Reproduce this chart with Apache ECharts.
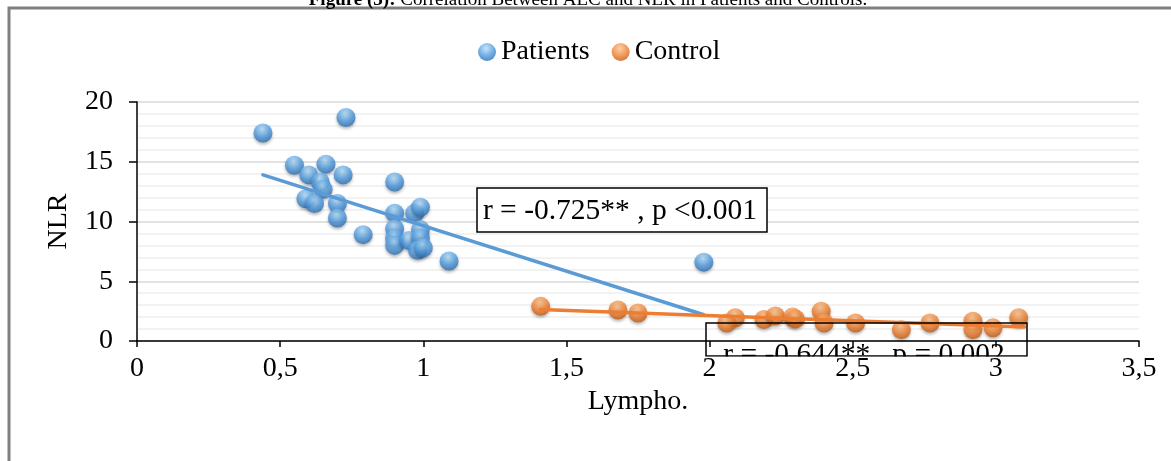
<!DOCTYPE html>
<html>
<head>
<meta charset="utf-8">
<script src="https://cdn.jsdelivr.net/npm/echarts@6/dist/echarts.min.js"></script>
<style>
html,body{margin:0;padding:0;background:#fff;}
#chart{width:1171px;height:461px;}
</style>
</head>
<body>
<div id="chart"></div>
<script>
// ---- data ----
const patientsLympho = [0.44,0.73,0.55,0.66,0.60,0.72,0.64,0.65,0.90,0.59,0.62,0.70,0.70,0.90,0.97,0.99,0.79,0.90,0.90,0.90,0.99,0.95,0.99,0.98,1.00,1.09,1.98];
const patientsNLR    = [17.4,18.7,14.7,14.8,13.9,13.9,13.3,12.7,13.3,11.9,11.5,11.5,10.3,10.7,10.7,11.2,8.9,9.4,8.6,8.0,9.3,8.4,8.6,7.6,7.8,6.7,6.6];
const controlLympho  = [1.41,1.68,1.75,2.09,2.06,2.19,2.23,2.29,2.30,2.39,2.40,2.51,2.67,2.77,2.92,2.92,2.99,3.08];
const controlNLR     = [2.9,2.6,2.35,1.95,1.5,1.8,2.1,2.0,1.85,2.5,1.5,1.5,0.95,1.5,1.65,0.95,1.1,1.95];
const patientsTrendX = [0.44,1.98];
const patientsTrendY = [13.9,2.2];
const controlTrendX  = [1.41,3.10];
const controlTrendY  = [2.63,1.18];
const xTicks = [0,0.5,1,1.5,2,2.5,3,3.5];
const yTicks = [0,5,10,15,20];
const seriesNames = ['Patients','Control'];
const patientsNote = 'r = -0.725** , p <0.001';
const controlNote  = 'r = -0.644** , p = 0.002';
const titleBold = 'Figure (3):';
const titleRest = ' Correlation Between ALC and NLR in Patients and Controls.';

const zip = (a,b) => a.map((v,i)=>[v,b[i]]);
const FONT = 'Liberation Serif';

function sphere(light, mid, dark){
  return new echarts.graphic.RadialGradient(0.45, 0.3, 0.75, [
    {offset:0, color:light},
    {offset:0.55, color:mid},
    {offset:1, color:dark}
  ]);
}
const blueSphere = sphere('#b6e0fb','#4f9be0','#2a68a8');
const orangeSphere = sphere('#ffc48f','#f08030','#b85510');

const chart = echarts.init(document.getElementById('chart'), null, {renderer:'canvas'});
chart.setOption({
  animation:false,
  backgroundColor:'#fff',
  textStyle:{fontFamily:FONT},
  legend:{
    left:473, top:33,
    itemWidth:18, itemHeight:18, itemGap:22,
    textStyle:{fontFamily:FONT, fontSize:28, color:'#000'},
    data:[{name:seriesNames[0], icon:'circle'},{name:seriesNames[1], icon:'circle'}]
  },
  grid:{left:137, right:32, top:102, bottom:120, containLabel:false},
  xAxis:{
    type:'value', min:xTicks[0], max:xTicks[xTicks.length-1], interval:0.5, z:10,
    name:'Lympho.', nameLocation:'middle', nameGap:40,
    nameTextStyle:{fontFamily:FONT, fontSize:28, color:'#000'},
    axisLine:{show:true, onZero:false, lineStyle:{color:'#000', width:1.5}},
    axisTick:{show:true, length:6, lineStyle:{color:'#000', width:1.5}},
    axisLabel:{fontFamily:FONT, fontSize:28, color:'#000', margin:14,
      formatter:v=>String(v).replace('.',',')},
    splitLine:{show:false}
  },
  yAxis:{
    type:'value', min:yTicks[0], max:yTicks[yTicks.length-1], interval:5, z:0,
    name:'NLR', nameLocation:'middle', nameGap:64, nameRotate:90,
    nameTextStyle:{fontFamily:FONT, fontSize:28, color:'#000'},
    axisLine:{show:true, onZero:false, lineStyle:{color:'#000', width:1.5}},
    axisTick:{show:true, length:8, lineStyle:{color:'#000', width:1.5}},
    axisLabel:{fontFamily:FONT, fontSize:28, color:'#000', margin:24},
    splitLine:{show:true, lineStyle:{color:'#d9d9d9', width:1.5}},
    minorTick:{show:false, splitNumber:5},
    minorSplitLine:{show:true, lineStyle:{color:'#eeeeee', width:1.5}}
  },
  series:[
    {name:seriesNames[0], type:'scatter', symbol:'circle', symbolSize:19, z:2,
     itemStyle:{color:blueSphere, shadowBlur:3, shadowOffsetY:2, shadowColor:'rgba(0,0,0,0.35)'},
     data:zip(patientsLympho, patientsNLR)},
    {name:seriesNames[1], type:'scatter', symbol:'circle', symbolSize:19, z:2,
     itemStyle:{color:orangeSphere, shadowBlur:3, shadowOffsetY:2, shadowColor:'rgba(0,0,0,0.35)'},
     data:zip(controlLympho, controlNLR)},
    {name:'PatientsTrend', type:'line', showSymbol:false, symbol:'none', z:3, silent:true,
     lineStyle:{color:'#5b9bd5', width:3.5, cap:'round'},
     data:zip(patientsTrendX, patientsTrendY)},
    {name:'ControlTrend', type:'line', showSymbol:false, symbol:'none', z:3, silent:true,
     lineStyle:{color:'#ed7d31', width:3.5, cap:'round'},
     data:zip(controlTrendX, controlTrendY)}
  ],
  graphic:[
    {type:'rect', z:1, silent:true, shape:{x:9, y:8, width:1200, height:500},
     style:{fill:null, stroke:'#808080', lineWidth:3}},
    {type:'text', z:1, silent:true, x:588, y:10,
     style:{text:'{b|'+titleBold+'}'+titleRest, align:'center', verticalAlign:'bottom',
       fontFamily:FONT, fontSize:19, fill:'#000',
       rich:{b:{fontFamily:FONT, fontSize:19, fontWeight:'bold', fill:'#000'}}}},
    {type:'rect', z:5, silent:true, shape:{x:477, y:188, width:290, height:44},
     style:{fill:'#fff', stroke:'#000', lineWidth:1.5}},
    {type:'text', z:6, silent:true, x:620, y:211,
     style:{text:patientsNote, align:'center', verticalAlign:'middle', fontFamily:FONT, fontSize:29.5, fill:'#000'}},
    {type:'rect', z:5, silent:true, shape:{x:706, y:323, width:321, height:33},
     style:{fill:null, stroke:'#000', lineWidth:1.5}},
    {type:'text', z:5, silent:true, x:864, y:355,
     style:{text:controlNote, align:'center', verticalAlign:'middle', fontFamily:FONT, fontSize:29.5, fill:'#000'}},
    {type:'rect', z:7, silent:true, shape:{x:704, y:356.8, width:325, height:14},
     style:{fill:'#fff'}}
  ]
});
</script>
</body>
</html>
